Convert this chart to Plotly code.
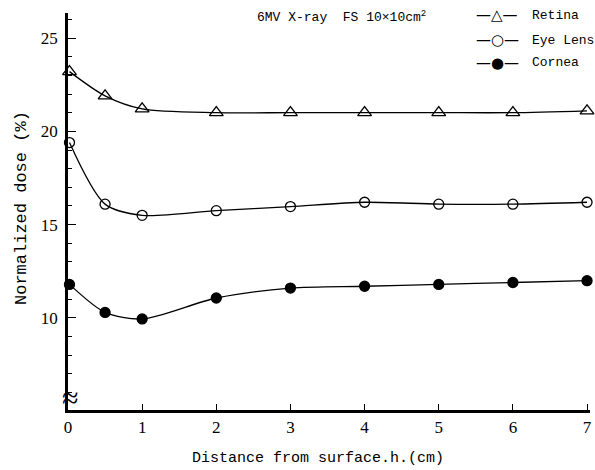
import plotly.graph_objects as go

distance = [0.02, 0.5, 1, 2, 3, 4, 5, 6, 7]
retina = [23.2, 21.9, 21.2, 21.0, 21.0, 21.0, 21.0, 21.0, 21.1]
eye_lens = [19.4, 16.1, 15.5, 15.75, 15.97, 16.2, 16.1, 16.1, 16.2]
cornea = [11.8, 10.3, 9.95, 11.07, 11.6, 11.7, 11.8, 11.9, 12.0]
x_ticks = [0, 1, 2, 3, 4, 5, 6, 7]
y_ticks = [10, 15, 20, 25]
series_names = ["Retina", "Eye Lens", "Cornea"]
legend_glyphs = ["—△—", "—○—", "—●—"]

FONT = "Liberation Mono"
NUMFONT = "Liberation Serif"

W, H = 595, 470
L, R, T, B = 68, 5, 13, 60
PW, PH = W - L - R, H - T - B


def px(x):
    return (x - L) / PW


def py(y):
    return (H - B - y) / PH


fig = go.Figure()
series = [
    (series_names[0], retina, "triangle-up-open", 12),
    (series_names[1], eye_lens, "circle-open", 10),
    (series_names[2], cornea, "circle", 10),
]
for name, ys, sym, sz in series:
    fig.add_trace(go.Scatter(
        x=distance, y=ys, name=name, mode="lines+markers",
        line=dict(color="black", width=1.3, shape="spline", smoothing=0.8),
        marker=dict(symbol=sym, color="black", size=sz,
                    line=dict(color="black", width=1.3)),
        cliponaxis=False,
    ))

fig.update_layout(
    width=W, height=H,
    margin=dict(l=L, r=R, t=T, b=B),
    paper_bgcolor="white", plot_bgcolor="white",
    font=dict(family=FONT, size=14, color="black"),
    showlegend=False,
    xaxis=dict(
        range=[0, 7.04], tickvals=x_ticks, ticktext=[str(t) for t in x_ticks],
        showgrid=False, zeroline=False, showline=True, linecolor="black",
        linewidth=3, ticks="inside", ticklen=6, tickcolor="black", tickwidth=1,
        tickfont=dict(family=NUMFONT, size=17), automargin=False,
    ),
    yaxis=dict(
        range=[5.07, 26.34], tickvals=y_ticks, ticktext=[str(t) for t in y_ticks],
        showgrid=False, zeroline=False, showline=True, linecolor="black",
        linewidth=2.5, ticks="inside", ticklen=8, tickcolor="black", tickwidth=1,
        tickfont=dict(family=NUMFONT, size=17), automargin=False,
        ticklabelstandoff=4,
        minor=dict(dtick=1, tick0=0, ticks="inside", ticklen=4,
                   tickcolor="black", tickwidth=1),
    ),
)

# legend drawn as text rows, like the original figure
legend_rows_y = [15, 40, 63]
for glyph, name, ry in zip(legend_glyphs, series_names, legend_rows_y):
    fig.add_annotation(
        text=glyph, xref="paper", yref="paper", x=px(497), y=py(ry),
        xanchor="center", yanchor="middle", showarrow=False,
        font=dict(family="DejaVu Sans", size=15),
    )
    fig.add_annotation(
        text=name, xref="paper", yref="paper", x=px(530), y=py(ry),
        xanchor="left", yanchor="middle", showarrow=False,
        font=dict(family=FONT, size=13),
    )

fig.add_annotation(
    text="Distance from surface.h.(cm)", xref="paper", yref="paper",
    x=px(318), y=py(458), xanchor="center", yanchor="middle",
    showarrow=False, font=dict(family=FONT, size=15),
)
fig.add_annotation(
    text="Normalized dose (%)", xref="paper", yref="paper", textangle=-90,
    x=px(22), y=py(208), xanchor="center", yanchor="middle",
    showarrow=False, font=dict(family=FONT, size=17),
)
fig.add_annotation(
    text="6MV X-ray  FS 10×10cm<sup>2</sup>", xref="paper", yref="paper",
    x=px(341), y=py(16), xanchor="center", yanchor="middle", showarrow=False,
    font=dict(family=FONT, size=13),
)
fig.add_annotation(
    text="≈", xref="paper", yref="y", x=0, y=5.75, xanchor="center",
    yanchor="middle", showarrow=False, xshift=2,
    font=dict(family=NUMFONT, size=30),
)

fig.write_html(
    "out.html",
    config={"displayModeBar": False},
    post_script="document.body.style.margin='0';document.body.style.overflow='hidden';",
)
